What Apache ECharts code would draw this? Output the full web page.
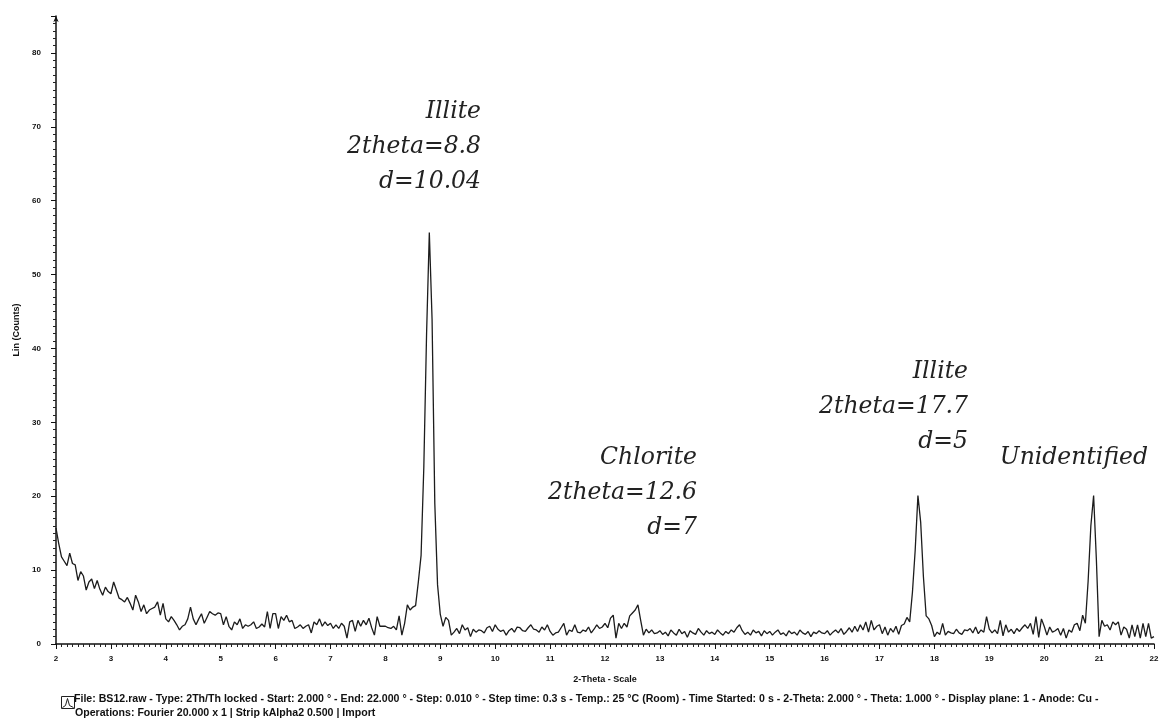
<!DOCTYPE html>
<html>
<head>
<meta charset="utf-8">
<script src="https://cdn.jsdelivr.net/npm/echarts@6/dist/echarts.min.js"></script>
<style>
  html, body { margin: 0; padding: 0; background: #fff; }
  #chart { width: 1163px; height: 725px; }
</style>
</head>
<body>
<div id="chart"></div>
<script>
// XRD scan, Lin (Counts) against 2-Theta, sampled every 0.05 degree from 2 to 22
const twoThetaStart = 2.0;
const twoThetaStep = 0.05;

// one row per degree (20 readings), final value at 22.00
const counts = [
  15.7, 13.6, 11.8, 11.2, 10.6, 12.3, 10.9, 10.7, 8.6, 9.8, 9.2, 7.3, 8.4, 8.8, 7.5, 8.6, 7.4, 6.6, 7.7, 7.1,   // 2
  6.8, 8.4, 7.3, 6.2, 6.0, 5.7, 6.3, 5.5, 4.6, 6.6, 5.7, 4.4, 5.3, 4.1, 4.6, 4.8, 5.0, 5.7, 3.9, 5.5,         // 3
  3.4, 3.0, 3.7, 3.2, 2.6, 1.9, 2.4, 2.6, 3.4, 5.0, 3.4, 2.6, 3.4, 4.1, 2.8, 3.6, 4.4, 4.1, 3.9, 4.2,         // 4
  4.1, 2.6, 3.7, 2.4, 1.9, 3.0, 2.6, 3.4, 2.1, 2.6, 2.4, 2.6, 3.0, 2.1, 2.3, 2.7, 2.3, 4.4, 2.1, 4.1,         // 5
  4.1, 2.1, 3.7, 3.2, 3.9, 3.0, 3.2, 2.1, 2.3, 2.6, 2.1, 2.4, 2.6, 1.5, 3.0, 2.6, 3.4, 2.4, 3.0, 2.5,         // 6
  2.8, 2.1, 2.6, 2.1, 2.8, 2.4, 0.8, 3.0, 3.2, 1.7, 3.2, 2.4, 3.2, 2.6, 3.5, 2.2, 1.2, 3.7, 2.4, 2.4,         // 7
  2.4, 2.2, 2.1, 2.4, 1.9, 3.8, 1.2, 2.8, 5.3, 4.6, 5.0, 5.2, 8.4, 12.0, 24.0, 42.0, 55.7, 44.0, 19.0, 8.0,   // 8
  4.0, 2.4, 3.6, 3.2, 1.2, 1.6, 2.1, 1.4, 2.6, 1.9, 2.2, 1.0, 2.0, 1.6, 1.9, 1.8, 1.5, 2.2, 2.4, 1.7,         // 9
  2.6, 2.0, 1.7, 1.9, 1.2, 1.8, 2.1, 1.6, 2.3, 2.2, 1.8, 1.7, 2.2, 2.6, 2.0, 1.9, 1.6, 2.3, 1.9, 2.6,         // 10
  1.7, 1.2, 1.5, 1.6, 2.2, 2.8, 1.2, 1.9, 1.7, 2.6, 1.6, 1.5, 1.9, 1.7, 2.3, 1.5, 2.0, 2.6, 2.1, 2.3,         // 11
  2.8, 2.2, 3.5, 3.9, 0.8, 2.8, 2.1, 2.8, 2.3, 3.8, 4.2, 4.6, 5.3, 3.2, 1.2, 2.0, 1.5, 1.9, 1.4, 1.5,         // 12
  1.8, 1.3, 1.6, 1.1, 1.9, 1.5, 1.2, 2.0, 1.4, 1.7, 0.9, 1.8, 1.5, 1.3, 2.1, 1.6, 1.2, 1.8, 1.4, 1.6,         // 13
  1.3, 1.9, 1.5, 1.2, 1.7, 1.4, 1.9, 1.6, 2.2, 2.6, 1.8, 1.3, 1.6, 1.2, 1.9, 1.5, 1.7, 1.1, 1.8, 1.4,         // 14
  1.7, 1.2, 1.6, 1.9, 1.3, 1.5, 1.1, 1.8, 1.4, 1.6, 1.2, 1.9, 1.5, 1.3, 1.7, 1.0, 1.6, 1.4, 1.8, 1.5,         // 15
  1.4, 1.8, 1.2, 1.6, 1.9, 1.5, 2.1, 1.3, 1.7, 2.2, 1.6, 2.4, 1.7, 2.6, 1.9, 3.0, 1.6, 3.2, 1.9, 2.4,         // 16
  2.6, 1.4, 2.3, 1.2, 2.1, 1.6, 2.4, 1.3, 2.5, 2.7, 3.6, 3.0, 7.0, 12.7, 20.1, 16.5, 9.1, 3.8, 3.4, 2.5,      // 17
  1.0, 1.6, 1.3, 2.8, 1.2, 1.7, 1.5, 1.4, 2.0, 1.5, 1.3, 1.9, 1.8, 2.1, 1.5, 2.3, 1.4, 1.9, 1.6, 3.7,         // 18
  2.0, 1.5, 1.9, 1.4, 3.2, 1.1, 2.6, 1.6, 2.0, 1.4, 2.1, 1.7, 2.2, 2.6, 2.1, 2.8, 1.3, 3.7, 0.9, 3.4,         // 19
  2.4, 1.2, 2.3, 1.6, 1.8, 2.1, 1.2, 2.1, 0.8, 1.9, 1.6, 2.6, 2.8, 1.8, 3.9, 2.8, 8.5, 16.0, 20.1, 11.5,      // 20
  1.0, 3.2, 2.4, 2.6, 1.9, 3.0, 2.6, 3.0, 1.2, 2.3, 2.0, 0.8, 2.6, 1.0, 2.6, 0.8, 2.8, 1.0, 2.8, 0.8,         // 21
  1.0                                                                                                           // 22
];

// peak annotations: text lines, right edge and first line position in px
const peakNotes = [
  { lines: ['Illite', '2theta=8.8', 'd=10.04'], right: 481, top: 114 },
  { lines: ['Chlorite', '2theta=12.6', 'd=7'], right: 697, top: 460 },
  { lines: ['Illite', '2theta=17.7', 'd=5'], right: 968, top: 374 },
  { lines: ['Unidentified'], right: 1148, top: 460 }
];

const footerLines = [
  'File: BS12.raw - Type: 2Th/Th locked - Start: 2.000 \u00b0 - End: 22.000 \u00b0 - Step: 0.010 \u00b0 - Step time: 0.3 s - Temp.: 25 \u00b0C (Room) - Time Started: 0 s - 2-Theta: 2.000 \u00b0 - Theta: 1.000 \u00b0 - Display plane: 1 - Anode: Cu -',
  'Operations: Fourier 20.000 x 1 | Strip kAlpha2 0.500 | Import'
];

const scan = counts.map((c, i) => [+(twoThetaStart + i * twoThetaStep).toFixed(2), c]);

const chart = echarts.init(document.getElementById('chart'), null, { renderer: 'canvas' });

const noteGraphics = [];
peakNotes.forEach(n => {
  n.lines.forEach((t, k) => {
    noteGraphics.push({
      type: 'text',
      right: 1163 - n.right,
      top: n.top - 14 + k * 35,
      style: {
        text: t,
        font: 'italic 23.5px "DejaVu Serif"',
        fill: '#222',
        textAlign: 'right'
      }
    });
  });
});

const footerGraphics = [
  {
    type: 'group',
    left: 59, top: 694,
    children: [
      { type: 'rect', shape: { x: 0, y: 0, width: 13, height: 12 }, style: { fill: 'none', stroke: '#222', lineWidth: 1 } },
      { type: 'polyline', shape: { points: [[1, 11], [4, 9], [6, 2], [8, 9], [12, 11]] }, style: { fill: 'none', stroke: '#222', lineWidth: 1 } }
    ]
  },
  { type: 'text', left: 74, top: 694, style: { text: footerLines[0], font: 'bold 10.6px "Liberation Sans"', fill: '#111' } },
  { type: 'text', left: 75, top: 708, style: { text: footerLines[1], font: 'bold 10.6px "Liberation Sans"', fill: '#111' } }
];

chart.setOption({
  backgroundColor: '#fff',
  animation: false,
  grid: { left: 56, right: 9, top: 16, bottom: 81, containLabel: false },
  xAxis: {
    type: 'value',
    min: 2, max: 22, interval: 1,
    name: '2-Theta - Scale',
    nameLocation: 'middle',
    nameGap: 31,
    nameTextStyle: { fontFamily: 'Liberation Sans', fontWeight: 'bold', fontSize: 9, color: '#111' },
    axisLine: { show: true, onZero: false, lineStyle: { color: '#111', width: 1.5 } },
    axisTick: { show: true, length: 5, lineStyle: { color: '#111', width: 1 } },
    minorTick: { show: true, splitNumber: 10, length: 3, lineStyle: { color: '#222', width: 1 } },
    axisLabel: { fontFamily: 'Liberation Sans', fontWeight: 'bold', fontSize: 8, color: '#111', margin: 11 },
    splitLine: { show: false }
  },
  yAxis: {
    type: 'value',
    min: 0, max: 85, interval: 10,
    name: 'Lin (Counts)',
    nameLocation: 'middle',
    nameRotate: 90,
    nameGap: 31,
    nameTextStyle: { fontFamily: 'Liberation Sans', fontWeight: 'bold', fontSize: 9, color: '#111' },
    axisLine: { show: true, onZero: false, symbol: ['none', 'arrow'], symbolSize: [4, 6], lineStyle: { color: '#111', width: 1.5 } },
    axisTick: { show: true, length: 5, lineStyle: { color: '#111', width: 1 } },
    minorTick: { show: true, splitNumber: 10, length: 3, lineStyle: { color: '#222', width: 1 } },
    axisLabel: { fontFamily: 'Liberation Sans', fontWeight: 'bold', fontSize: 8, color: '#111', margin: 15, showMaxLabel: false },
    splitLine: { show: false }
  },
  series: [{
    type: 'line',
    data: scan,
    showSymbol: false,
    symbol: 'none',
    lineStyle: { color: '#1c1c1c', width: 1.3 },
    silent: true
  }],
  graphic: noteGraphics.concat(footerGraphics)
});
</script>
</body>
</html>
